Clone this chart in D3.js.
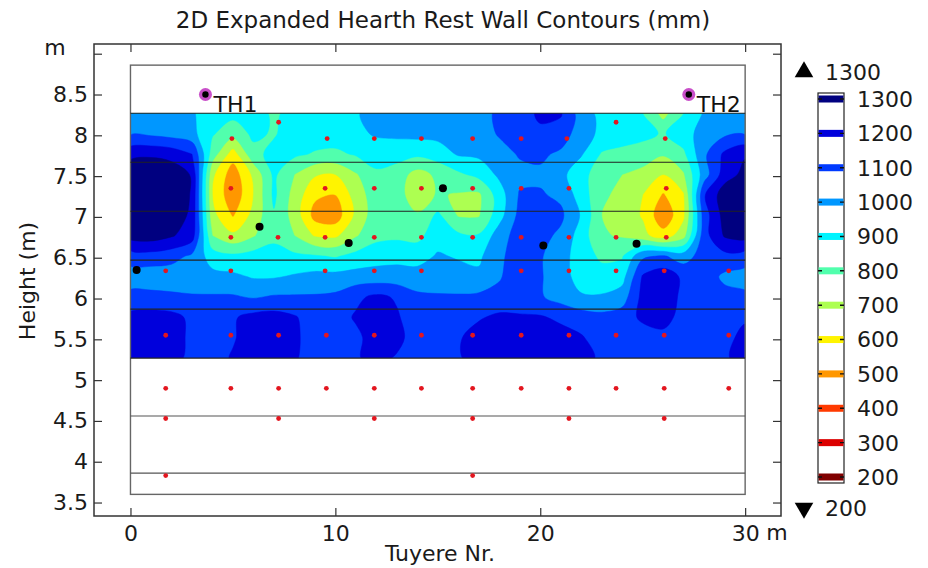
<!DOCTYPE html>
<html>
<head>
<meta charset="utf-8">
<script src="https://cdn.jsdelivr.net/npm/d3@7"></script>
<style>
  body { margin: 0; background: #fff; }
  svg { display: block; font-family: "DejaVu Sans", sans-serif; }
</style>
</head>
<body>
<svg id="chart" width="928" height="568"></svg>
<script>
// grid of rest wall thickness (mm), rows from top (8.27 m) down to 5.27 m
const tuyerePos = [0, 1, 2, 3, 4, 5, 6, 7, 8, 9, 10, 11, 12, 13, 14, 15, 16, 17, 18, 19, 20, 21, 22, 23, 24, 25, 26, 27, 28, 29, 30];
const gridHeights = [8.27, 8.02, 7.77, 7.52, 7.27, 7.02, 6.77, 6.52, 6.27, 6.02, 5.77, 5.52, 5.27];
const thickness = [
  [1050, 1050, 1050, 1010, 950, 930, 950, 880, 940, 950, 960, 990, 1040, 1050, 1050, 1050, 1060, 1080, 1110, 1150, 1220, 1210, 1050, 970, 940, 900, 760, 900, 1010, 1050, 1060],
  [1090, 1080, 1060, 1030, 910, 840, 920, 890, 950, 950, 950, 980, 1010, 1020, 1030, 1030, 1040, 1050, 1110, 1160, 1180, 1160, 1040, 980, 950, 930, 890, 960, 1040, 1080, 1090],
  [1270, 1280, 1260, 1200, 850, 650, 870, 930, 920, 890, 880, 910, 950, 940, 920, 950, 1010, 1020, 1060, 1110, 1120, 1080, 1010, 890, 870, 850, 810, 880, 1080, 1220, 1290],
  [1380, 1400, 1370, 1290, 720, 540, 720, 920, 800, 710, 700, 790, 880, 850, 760, 820, 880, 930, 1020, 1070, 1080, 1030, 930, 850, 800, 770, 700, 790, 1050, 1250, 1330],
  [1400, 1420, 1380, 1290, 700, 520, 700, 920, 760, 620, 600, 740, 860, 840, 740, 810, 790, 780, 950, 1110, 1110, 1080, 950, 820, 770, 700, 590, 690, 1190, 1360, 1380],
  [1390, 1400, 1360, 1280, 730, 590, 730, 890, 760, 560, 540, 720, 860, 870, 810, 920, 790, 790, 960, 1130, 1140, 1120, 990, 800, 760, 690, 520, 680, 1150, 1340, 1390],
  [1340, 1350, 1310, 1250, 800, 720, 790, 880, 800, 690, 680, 790, 870, 880, 870, 960, 920, 910, 1050, 1150, 1130, 1080, 950, 810, 790, 730, 640, 760, 1160, 1310, 1340],
  [1150, 1160, 1140, 1080, 950, 920, 940, 930, 920, 910, 890, 930, 960, 970, 960, 1010, 990, 980, 1080, 1150, 1110, 1040, 950, 880, 890, 1080, 1110, 1050, 1150, 1170, 1150],
  [1050, 1040, 1040, 1040, 1030, 1020, 990, 990, 1010, 1030, 1030, 1040, 1040, 1040, 1040, 1050, 1040, 1020, 1090, 1160, 1110, 1040, 960, 940, 960, 1210, 1260, 1180, 1150, 1080, 1060],
  [1130, 1130, 1120, 1110, 1110, 1110, 1090, 1110, 1110, 1110, 1120, 1180, 1220, 1190, 1120, 1110, 1110, 1120, 1130, 1150, 1110, 1060, 1010, 1010, 1050, 1230, 1270, 1170, 1140, 1130, 1120],
  [1230, 1240, 1230, 1180, 1150, 1190, 1230, 1240, 1210, 1150, 1160, 1210, 1240, 1210, 1150, 1140, 1170, 1190, 1220, 1210, 1210, 1180, 1150, 1130, 1150, 1220, 1240, 1160, 1140, 1170, 1190],
  [1250, 1260, 1240, 1180, 1140, 1190, 1250, 1260, 1220, 1150, 1140, 1180, 1240, 1230, 1150, 1140, 1190, 1240, 1250, 1250, 1250, 1240, 1210, 1150, 1140, 1150, 1170, 1150, 1140, 1180, 1220],
  [1250, 1250, 1240, 1170, 1160, 1210, 1240, 1250, 1210, 1160, 1160, 1190, 1230, 1190, 1160, 1160, 1190, 1240, 1250, 1250, 1250, 1240, 1220, 1190, 1150, 1150, 1150, 1150, 1160, 1190, 1230]
];

// colour legend
const levels = [1300, 1200, 1100, 1000, 900, 800, 700, 600, 500, 400, 300, 200];
const levelColors = ['#000080', '#0000dc', '#003aff', '#0097ff', '#00f4ff', '#51ffad', '#adff51', '#fff400', '#ff9700', '#ff3a00', '#dc0000', '#800000'];

// hearth outline
const courseLines = [8.27, 7.67, 7.07, 6.47, 5.87, 5.27, 4.56, 3.86];
const hearthTop = 8.86, hearthBottom = 3.6;
const xTicks = [0, 10, 20, 30];
const yTicks = [3.5, 4, 4.5, 5, 5.5, 6, 6.5, 7, 7.5, 8, 8.5, 9];

// thermocouple rows (height) and the tuyere positions used in each row
const sensorRowH = [8.16, 7.96, 7.35, 6.75, 6.34, 5.55, 4.9, 4.53, 3.83];
const sensorRowX = [
  [7.23, 23.7],
  [4.95, 9.6, 11.9, 14.2, 16.7, 19.07, 21.3, 26.1],
  [4.9, 9.5, 11.9, 14.2, 16.7, 19.07, 21.4, 26.15],
  [4.9, 7.2, 9.5, 11.9, 14.2, 16.7, 19.07, 21.4, 23.7, 26.15],
  [1.72, 4.9, 9.5, 11.9, 14.2, 19.07, 21.4, 23.7, 26.05, 29.2],
  [1.72, 4.9, 7.23, 9.56, 11.9, 14.2, 16.7, 19.07, 21.4, 23.7, 26.05, 29.2],
  [1.72, 4.9, 7.23, 9.56, 11.9, 14.2, 16.7, 19.07, 21.4, 23.7, 26.05, 29.2],
  [1.72, 7.23, 11.9, 16.7, 21.4, 26.05],
  [1.72, 16.7]
];
const probeX = [0.3, 6.3, 10.65, 15.25, 20.15, 24.7];
const probeH = [6.35, 6.88, 6.68, 7.35, 6.65, 6.67];
const thNames = ['TH1', 'TH2'];
const thX = [3.66, 27.25];
const thH = [8.5, 8.5];

const svg = d3.select('#chart');

const x = d3.scaleLinear().domain([-1.78, 31.75]).range([94, 781]);
const y = d3.scaleLinear().domain([3.335, 9.119]).range([516, 44]);

const colorOf = d3.scaleOrdinal().domain(levels).range(levelColors);

// filled contours
const nx = tuyerePos.length, ny = gridHeights.length;
const dx = tuyerePos[1] - tuyerePos[0];
const dh = gridHeights[0] - gridHeights[1];
const fillLevels = levels.slice().sort((a, b) => a - b);
const contours = d3.contours().size([nx, ny]).thresholds(fillLevels)(thickness.flat());

// grid coords -> pixels (samples sit at cell centres)
const toPx = p => [x(tuyerePos[0] + (p[0] - 0.5) * dx), y(gridHeights[0] - (p[1] - 0.5) * dh)];
const ringLine = d3.line().curve(d3.curveCatmullRomClosed.alpha(0.5));
const contourPath = mp => mp.coordinates
  .map(poly => poly.map(ring => ringLine(ring.slice(0, -1).map(toPx))).join(''))
  .join('');

svg.append('clipPath').attr('id', 'hearth-clip')
  .append('rect')
  .attr('x', x(tuyerePos[0]))
  .attr('y', y(gridHeights[0]))
  .attr('width', x(tuyerePos[nx - 1]) - x(tuyerePos[0]))
  .attr('height', y(gridHeights[ny - 1]) - y(gridHeights[0]));

svg.append('g').attr('clip-path', 'url(#hearth-clip)')
  .selectAll('path')
  .data(contours)
  .enter()
  .append('path')
  .attr('d', contourPath)
  .attr('fill-rule', 'evenodd')
  .attr('fill', d => colorOf(d.value))
  .attr('stroke', d => colorOf(d.value))
  .attr('stroke-width', 0.5);

// hearth outline and course lines
svg.append('rect')
  .attr('x', x(0)).attr('y', y(hearthTop))
  .attr('width', x(30) - x(0)).attr('height', y(hearthBottom) - y(hearthTop))
  .attr('fill', 'none').attr('stroke', '#666').attr('stroke-width', 1.4);

svg.append('g').selectAll('line')
  .data(courseLines)
  .enter()
  .append('line')
  .attr('x1', x(0)).attr('x2', x(30))
  .attr('y1', d => y(d)).attr('y2', d => y(d))
  .attr('stroke', d => d >= 5.27 ? '#222' : '#555')
  .attr('stroke-width', 1.1);

// measurement points
const sensors = [];
sensorRowH.forEach((h, i) => sensorRowX[i].forEach(v => sensors.push([v, h])));
svg.append('g').selectAll('circle')
  .data(sensors)
  .enter()
  .append('circle')
  .attr('cx', d => x(d[0])).attr('cy', d => y(d[1]))
  .attr('r', 2.4).attr('fill', '#e3161f');

svg.append('g').selectAll('circle')
  .data(probeX)
  .enter()
  .append('circle')
  .attr('cx', d => x(d)).attr('cy', (d, i) => y(probeH[i]))
  .attr('r', 4).attr('fill', '#000');

const th = svg.append('g').selectAll('g')
  .data(thNames)
  .enter()
  .append('g')
  .attr('transform', (d, i) => `translate(${x(thX[i])},${y(thH[i])})`);
th.append('circle').attr('r', 6.5).attr('fill', '#c94fc9');
th.append('circle').attr('r', 3.2).attr('fill', '#000');
th.append('text')
  .attr('x', 8).attr('y', 17)
  .attr('font-size', 22).attr('fill', '#111')
  .text(d => d);

// axes, ticks point inward
const axisStyle = g => {
  g.select('.domain').remove();
  g.selectAll('.tick line').attr('stroke', '#333').attr('stroke-width', 1.2);
  g.selectAll('.tick text').attr('font-size', 22).attr('fill', '#1a1a1a').attr('font-family', '"DejaVu Sans", sans-serif');
};

svg.append('g')
  .attr('transform', 'translate(0,516)')
  .call(d3.axisBottom(x).tickValues(xTicks).tickSizeInner(-8).tickSizeOuter(0).tickPadding(9))
  .call(axisStyle);
svg.append('g')
  .attr('transform', 'translate(0,44)')
  .call(d3.axisTop(x).tickValues(xTicks).tickSizeInner(-8).tickSizeOuter(0).tickFormat(''))
  .call(axisStyle);
svg.append('g')
  .attr('transform', 'translate(94,0)')
  .call(d3.axisLeft(y).tickValues(yTicks).tickSizeInner(-8).tickSizeOuter(0).tickPadding(6)
    .tickFormat(d => d === 9 ? '' : d3.format('')(d)))
  .call(axisStyle);
svg.append('g')
  .attr('transform', 'translate(781,0)')
  .call(d3.axisRight(y).tickValues(yTicks).tickSizeInner(-8).tickSizeOuter(0).tickFormat(''))
  .call(axisStyle);

svg.append('rect')
  .attr('x', 94).attr('y', 44).attr('width', 781 - 94).attr('height', 516 - 44)
  .attr('fill', 'none').attr('stroke', '#333').attr('stroke-width', 1.5);

// unit labels
svg.append('text').attr('x', 55).attr('y', 55).attr('text-anchor', 'middle')
  .attr('font-size', 22).attr('fill', '#1a1a1a').text('m');
svg.append('text').attr('x', x(30) + 21).attr('y', 540)
  .attr('font-size', 22).attr('fill', '#1a1a1a').text('m');

// titles
svg.append('text')
  .attr('x', 443).attr('y', 28).attr('text-anchor', 'middle')
  .attr('font-size', 23).attr('fill', '#1a1a1a')
  .text('2D Expanded Hearth Rest Wall Contours (mm)');
svg.append('text')
  .attr('x', 440).attr('y', 561).attr('text-anchor', 'middle')
  .attr('font-size', 22).attr('fill', '#1a1a1a')
  .text('Tuyere Nr.');
svg.append('text')
  .attr('transform', 'translate(35,281) rotate(-90)')
  .attr('text-anchor', 'middle')
  .attr('font-size', 22).attr('fill', '#1a1a1a')
  .text('Height (m)');

// colour legend
const ly = d3.scaleLinear().domain([200, 1300]).range([477, 99]);
const legend = svg.append('g');
legend.append('rect')
  .attr('x', 818).attr('y', 93).attr('width', 26).attr('height', 390)
  .attr('fill', '#fff').attr('stroke', '#222').attr('stroke-width', 1.2);
legend.selectAll('rect.stripe')
  .data(levels)
  .enter()
  .append('rect')
  .attr('class', 'stripe')
  .attr('x', 818.6).attr('y', d => ly(d) - 3.5)
  .attr('width', 24.8).attr('height', 7)
  .attr('fill', d => colorOf(d));
legend.selectAll('path.tk')
  .data(levels)
  .enter()
  .append('path')
  .attr('class', 'tk')
  .attr('d', d => `M818,${ly(d)}h4M840,${ly(d)}h4`)
  .attr('stroke', '#111').attr('stroke-width', 1.4);
legend.selectAll('text.lv')
  .data(levels)
  .enter()
  .append('text')
  .attr('class', 'lv')
  .attr('x', 857).attr('y', d => ly(d)).attr('dy', '0.36em')
  .attr('font-size', 22).attr('fill', '#1a1a1a')
  .text(d => d);

const tri = d3.symbol().type(d3.symbolTriangle).size(150);
legend.append('path').attr('d', tri).attr('transform', 'translate(804,72)').attr('fill', '#000');
legend.append('path').attr('d', tri).attr('transform', 'translate(804,508) rotate(180)').attr('fill', '#000');
legend.append('text').attr('x', 825).attr('y', 72).attr('dy', '0.36em')
  .attr('font-size', 22).attr('fill', '#1a1a1a').text(levels[0]);
legend.append('text').attr('x', 825).attr('y', 508).attr('dy', '0.36em')
  .attr('font-size', 22).attr('fill', '#1a1a1a').text(levels[levels.length - 1]);
</script>
</body>
</html>
